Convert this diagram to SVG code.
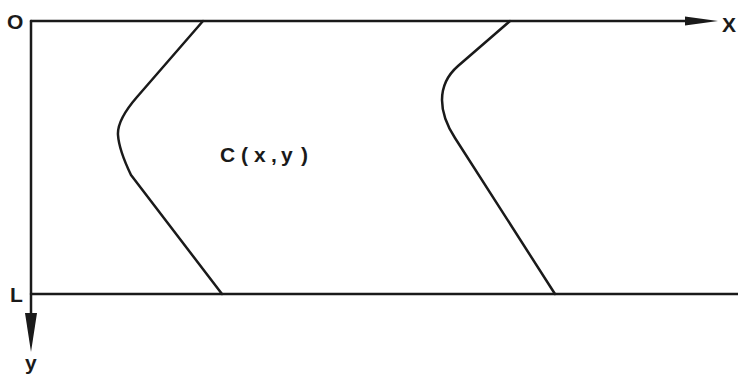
<svg xmlns="http://www.w3.org/2000/svg" width="738" height="375" viewBox="0 0 738 375">
<style>
.ln{stroke:#1a1a1a;stroke-width:2.5;fill:none;stroke-linecap:round;stroke-linejoin:round}
.ah{fill:#1a1a1a;stroke:none}
.t{font-family:"Liberation Sans",Arial,sans-serif;font-size:21px;fill:#1a1a1a;font-weight:bold}
</style>
<rect width="738" height="375" fill="#fff"/>
<g id="connectors">
<line class="ln" x1="31" y1="21" x2="700" y2="21"/>
<path class="ah" d="M685,16.5 L718,21 L685,25.5 Z"/>
<line class="ln" x1="31" y1="21" x2="31" y2="330"/>
<path class="ah" d="M25,313 L31,352 L37,313 Z"/>
<line class="ln" x1="31" y1="294" x2="738" y2="294"/>
</g>
<g id="curve1">
<path class="ln" d="M203,21 L137,97 Q117,120 118,135 Q119,150 131,175 L222,294"/>
</g>
<g id="curve2">
<path class="ln" d="M510,21 L458,66 Q442,80 442,100 Q442,118 455,138 L555,294"/>
</g>
<g id="labels">
<text class="t" x="7" y="29">O</text>
<text class="t" x="722" y="32">X</text>
<text class="t" x="10" y="302">L</text>
<text class="t" x="25" y="370">y</text>
<text class="t" x="220 241 254 271 281 301" y="162">C(x,y)</text>
</g>
</svg>
